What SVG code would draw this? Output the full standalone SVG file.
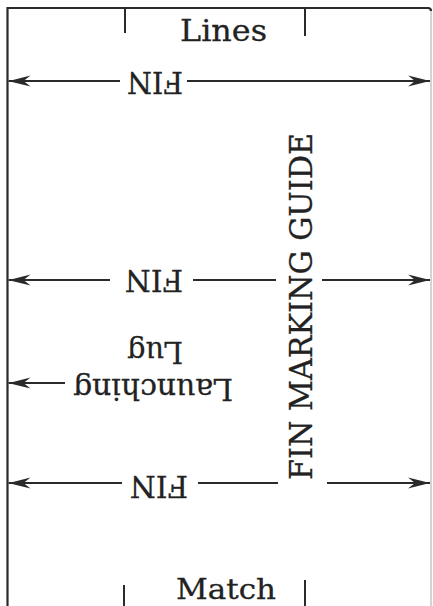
<svg xmlns="http://www.w3.org/2000/svg" width="433" height="606" viewBox="0 0 433 606">
<defs>
<style>
.ln{stroke:#2a2a2a;stroke-width:2;fill:none;stroke-linecap:butt}
.fr{stroke:#2a2a2a;stroke-width:2.2;fill:none}
.tx{font-family:"DejaVu Serif","Liberation Serif",serif;fill:#222;font-size:30px;stroke:#222;stroke-width:0.3}
.ar{marker-end:url(#ah)}
.al{marker-start:url(#ahs)}
</style>
<marker id="ah" viewBox="0 0 22 12" refX="22" refY="6" markerWidth="22" markerHeight="12" markerUnits="userSpaceOnUse" orient="auto">
<path d="M22 6 L0 0.5 L7 6 L0 11.5 Z" fill="#2a2a2a"/>
</marker>
<marker id="ahs" viewBox="0 0 22 12" refX="0" refY="6" markerWidth="22" markerHeight="12" markerUnits="userSpaceOnUse" orient="auto">
<path d="M0 6 L22 0.5 L15 6 L22 11.5 Z" fill="#2a2a2a"/>
</marker>
</defs>
<rect width="433" height="606" fill="#fff"/>
<g id="frame">
<path class="fr" d="M7.5 606 L7.5 8 L428 8 Q431 8 431 11"/>
<line x1="431" y1="11" x2="431" y2="606" stroke="#555" stroke-width="1" opacity="0.5"/>
<line class="ln" x1="125" y1="8" x2="125" y2="33"/>
<line class="ln" x1="305" y1="8" x2="305" y2="36"/>
<line class="ln" x1="124" y1="585" x2="124" y2="606"/>
<line class="ln" x1="305" y1="580" x2="305" y2="606"/>
</g>
<g id="labels">
<text class="tx" x="223.5" y="41" text-anchor="middle" textLength="87" lengthAdjust="spacingAndGlyphs">Lines</text>
<text class="tx" x="226" y="599" text-anchor="middle" textLength="100" lengthAdjust="spacingAndGlyphs" style="font-size:28px">Match</text>
</g>
<g id="connectors">
<line class="ln al" x1="8.5" y1="81" x2="120" y2="81"/>
<line class="ln ar" x1="187" y1="81" x2="430" y2="81"/>
<line class="ln al" x1="8.5" y1="280" x2="110" y2="280"/>
<line class="ln" x1="193" y1="280" x2="276" y2="280"/>
<line class="ln ar" x1="322" y1="280" x2="430" y2="280"/>
<line class="ln al" x1="8.5" y1="383" x2="65" y2="383"/>
<line class="ln al" x1="8.5" y1="483" x2="122" y2="483"/>
<line class="ln" x1="198" y1="483" x2="278" y2="483"/>
<line class="ln ar" x1="327" y1="483" x2="430" y2="483"/>
</g>
<g id="fin1">
<text class="tx" x="155" y="93.5" text-anchor="middle" textLength="56" lengthAdjust="spacingAndGlyphs" transform="rotate(180 155 82.5)">FIN</text>
</g>
<g id="fin2">
<text class="tx" x="154" y="292" text-anchor="middle" textLength="58" lengthAdjust="spacingAndGlyphs" transform="rotate(180 154 281)">FIN</text>
</g>
<g id="fin3">
<text class="tx" x="159" y="498" text-anchor="middle" textLength="58" lengthAdjust="spacingAndGlyphs" transform="rotate(180 159 487)">FIN</text>
</g>
<g id="launching-lug">
<text class="tx" x="155" y="364" text-anchor="middle" textLength="56" lengthAdjust="spacingAndGlyphs" transform="rotate(180 155 353)">Lug</text>
<text class="tx" x="153" y="401" text-anchor="middle" textLength="160" lengthAdjust="spacingAndGlyphs" transform="rotate(180 153 390)">Launching</text>
</g>
<g id="title">
<text class="tx" x="300" y="318.5" text-anchor="middle" textLength="347" lengthAdjust="spacingAndGlyphs" style="font-size:32px" transform="rotate(-90 300 306.5)">FIN MARKING GUIDE</text>
</g>
</svg>
